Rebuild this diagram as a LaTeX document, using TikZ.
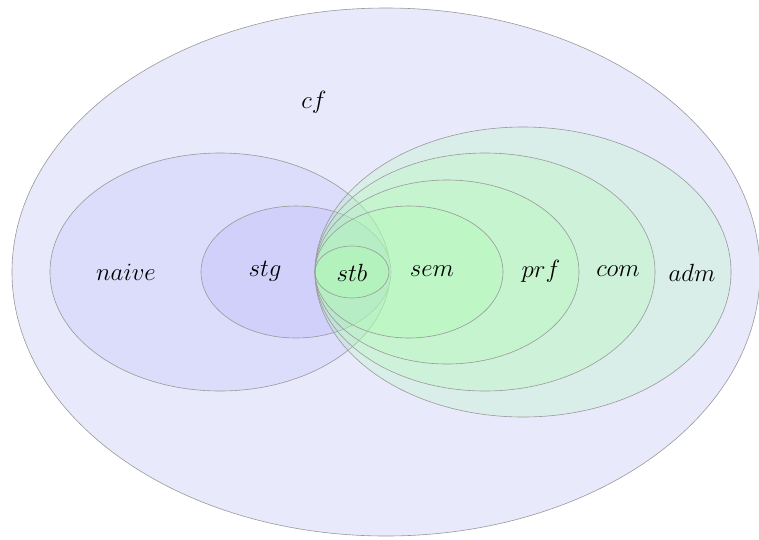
\documentclass[tikz,border=0pt]{standalone}
\begin{document}
\begin{tikzpicture}[x=1pt,y=-1pt,
  setline/.style={draw=black!40, line width=0.6pt},
  setb/.style={setline, fill=#1},
  setg/.style={setline, fill={rgb,255:red,170;green,255;blue,170}, fill opacity=0.23},
  lbl/.style={font=\fontsize{24}{28}\selectfont, text opacity=1}]
\definecolor{cfc}{RGB}{233,233,252}
\definecolor{naivec}{RGB}{220,220,251}
\definecolor{stgc}{RGB}{208,208,250}
\useasboundingbox (0,0) rectangle (759,539);
\begin{scope}
\clip (0,0) rectangle (759,539);
\path[setb=cfc] (386,272) ellipse [x radius=374, y radius=264];
\path[setb=naivec] (220,272) ellipse [x radius=170, y radius=119];
\path[setb=stgc] (296,272) ellipse [x radius=95, y radius=66];
\path[setg] (523,272) ellipse [x radius=208, y radius=145];
\path[setg] (485,272) ellipse [x radius=170, y radius=119];
\path[setg] (447,272) ellipse [x radius=132, y radius=92];
\path[setg] (409,272) ellipse [x radius=94, y radius=66];
\path[setg] (352,272) ellipse [x radius=37, y radius=26];
\end{scope}
\node[lbl] (cf) at (314,102) {$cf$};
\node[lbl] (naive) at (126,272) {$naive$};
\node[lbl] (stg) at (265,271) {$stg$};
\node[lbl] (stb) at (352,273) {$stb$};
\node[lbl] (sem) at (432,271) {$sem$};
\node[lbl] (prf) at (541,271) {$prf$};
\node[lbl] (com) at (618,271) {$com$};
\node[lbl] (adm) at (692,273) {$adm$};
\end{tikzpicture}
\end{document}
